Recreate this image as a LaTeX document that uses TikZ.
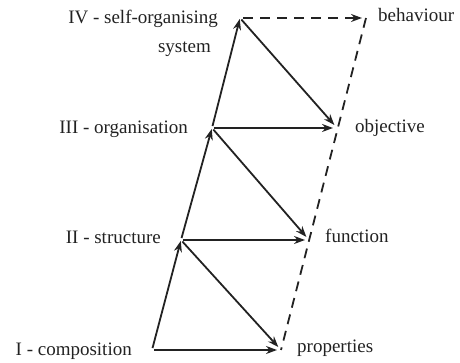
\documentclass[tikz,border=0pt]{standalone}
\usepackage{fontspec}
\setmainfont{Liberation Serif}
\usetikzlibrary{arrows.meta}
\definecolor{ink}{HTML}{222222}
\tikzset{
  arr/.style={draw=ink, line width=1.8pt, -{Stealth[length=11pt,width=8pt]}, shorten >=1pt, shorten <=2pt},
  dsh/.style={draw=ink, line width=1.8pt, dash pattern=on 10pt off 7pt},
  lbl/.style={text=ink, inner sep=0pt, font=\fontsize{19}{29}\selectfont}
}
\begin{document}
\begin{tikzpicture}[x=1pt,y=1pt]
\useasboundingbox (0,0) rectangle (460,363);
% left column points
\coordinate (P1) at (152,13);
\coordinate (P2) at (181,123);
\coordinate (P3) at (212,235);
\coordinate (P4) at (240,345);
% right column points
\coordinate (Q1) at (281,13);
\coordinate (Q2) at (309,123);
\coordinate (Q3) at (337,235);
\coordinate (Q4) at (366,345);
% dashed right line
\draw[dsh] (Q4) -- (Q1);
% horizontal arrows
\draw[arr, shorten >=4pt] (P1) -- (Q1);
\draw[arr, shorten >=4pt] (P2) -- (Q2);
\draw[arr, shorten >=4pt] (P3) -- (Q3);
\draw[dsh, -{Stealth[length=11pt,width=8pt]}, shorten >=4pt, shorten <=3pt] (P4) -- (Q4);
% upward arrows
\draw[arr] (P1) -- (P2);
\draw[arr] (P2) -- (P3);
\draw[arr] (P3) -- (P4);
% diagonal arrows
\draw[arr, shorten >=4pt] (P2) -- (Q1);
\draw[arr, shorten >=4pt] (P3) -- (Q2);
\draw[arr, shorten >=4pt] (P4) -- (Q3);
% labels
\node[lbl, anchor=base east] (l1) at (132,7) {I - composition};
\node[lbl, anchor=base east] (l2) at (161,119) {II - structure};
\node[lbl, anchor=base east] (l3) at (188,229) {III - organisation};
\node[lbl, anchor=base east] (l4) at (218,339) {IV - self-organising};
\node[lbl, anchor=base east] (l4b) at (211,310) {system};
\node[lbl, anchor=base west] (r1) at (297,10) {properties};
\node[lbl, anchor=base west] (r2) at (325,120) {function};
\node[lbl, anchor=base west] (r3) at (355,230) {objective};
\node[lbl, anchor=base west] (r4) at (378,341) {behaviour};
\end{tikzpicture}
\end{document}
